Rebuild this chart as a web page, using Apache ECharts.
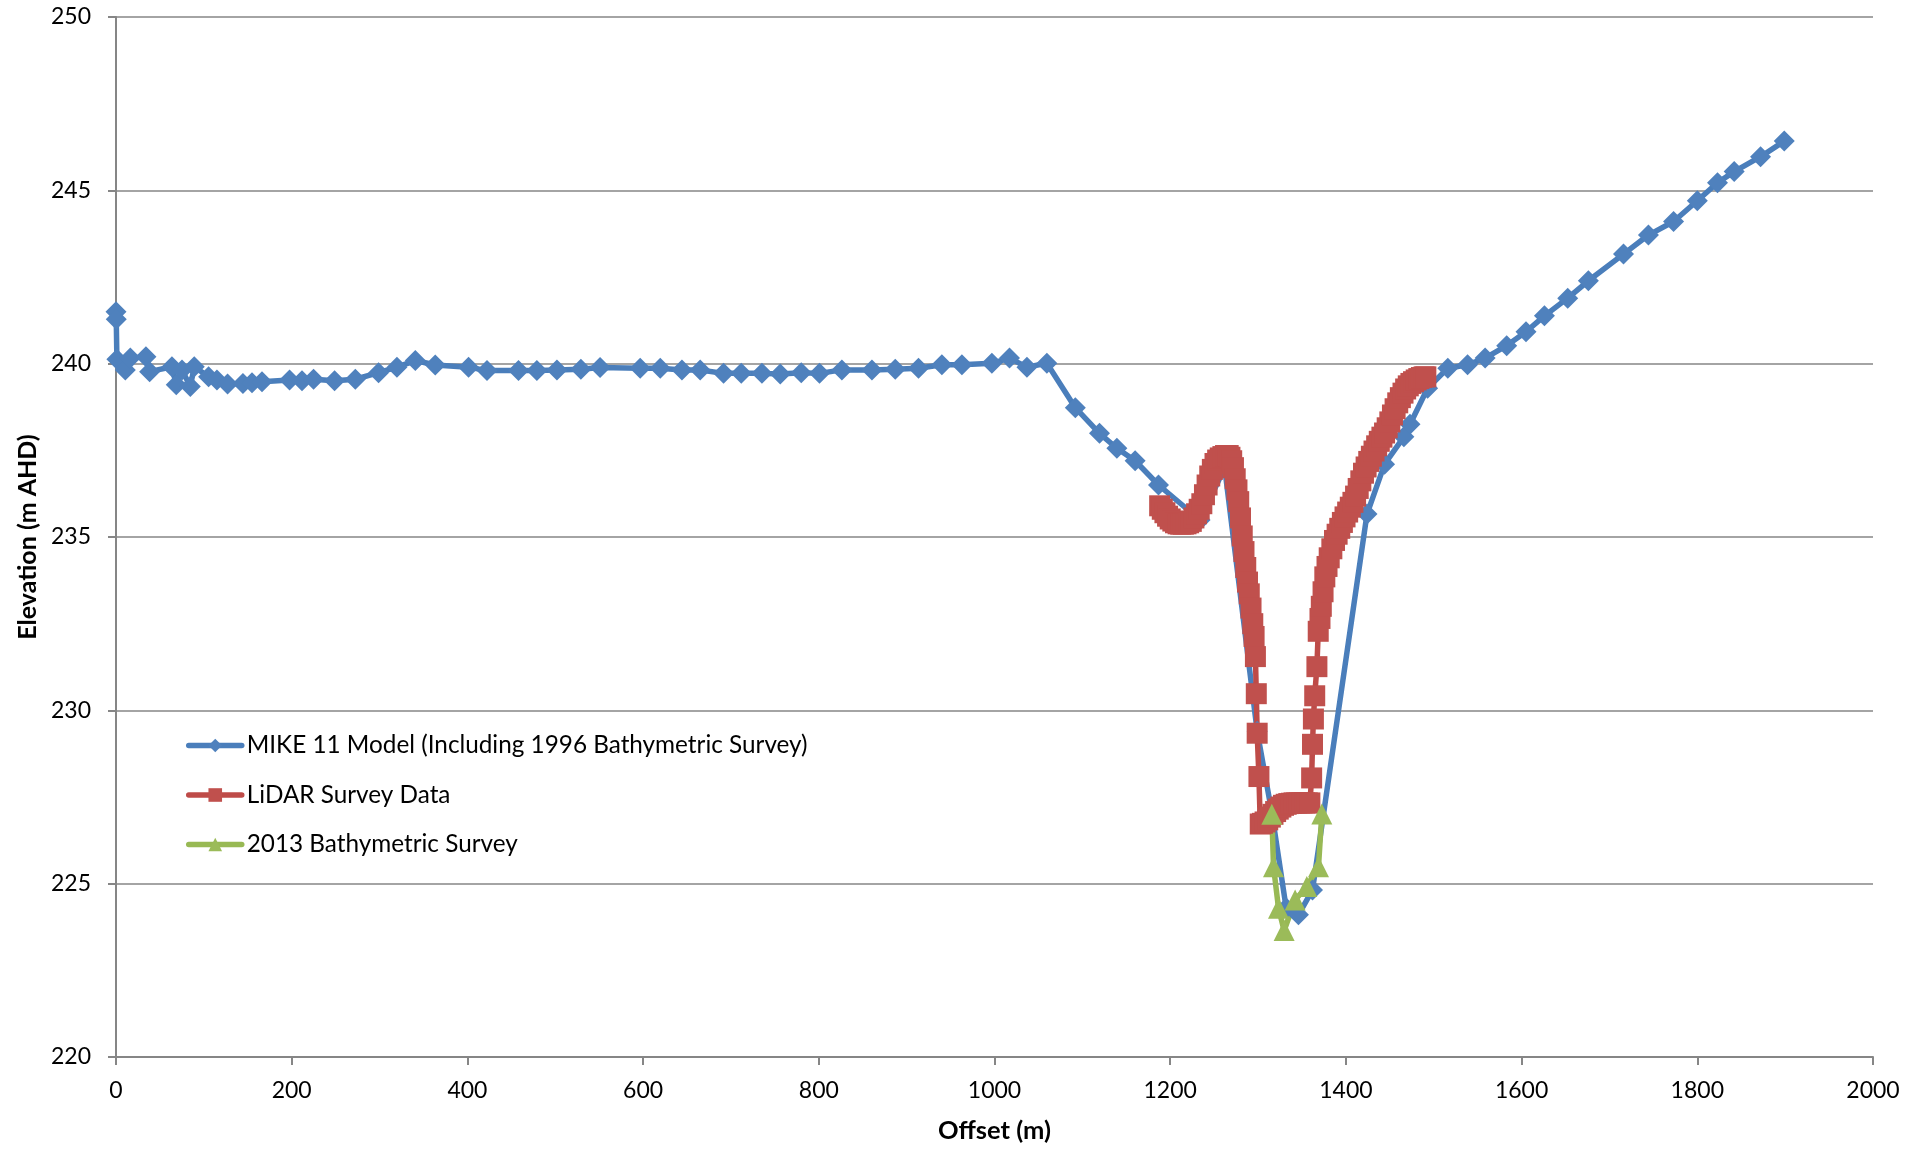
<!DOCTYPE html>
<html>
<head>
<meta charset="utf-8">
<title>Cross section – elevation vs offset</title>
<script src="https://cdn.jsdelivr.net/npm/echarts@6.0.0/dist/echarts.min.js"></script>
<style>
  html, body { margin: 0; padding: 0; background: #ffffff; }
  #chart { width: 1923px; height: 1149px; }
</style>
</head>
<body>
<div id="chart"></div>
<script>
// ---- Series names -------------------------------------------------------
const seriesNames = [
  'MIKE 11 Model (Including 1996 Bathymetric Survey)',
  'LiDAR Survey Data',
  '2013 Bathymetric Survey'
];

// ---- MIKE 11 model cross section (offset m, elevation m AHD) -------------
const mikeOffset = [
  0, 0.3, 1, 10.6, 16.3, 34.1, 38.3, 63.7, 68.6, 75.1, 84.6, 89.1, 105.4, 114.9,
  127, 144.5, 154.8, 166.2, 197.6, 211.7, 224.9, 248.8, 272.4, 298.9, 319.8,
  340.7, 363.4, 401.3, 422.3, 458.2, 479.1, 501.9, 529.2, 551, 596.7, 619.5,
  644.2, 665, 691.6, 711.7, 735.3, 756.1, 780, 800.8, 826.3, 860.5, 887, 913.5,
  940.1, 962.9, 997, 1017.1, 1036.9, 1059.6, 1092, 1119.5, 1139.3, 1160.1,
  1186.7, 1234, 1262, 1299, 1316, 1332, 1346, 1362, 1424, 1444,
  1466, 1473, 1493, 1516, 1538.5, 1558.5, 1583, 1605, 1626, 1652.5, 1676, 1716,
  1744.4, 1773, 1800, 1823, 1842, 1872, 1899
];
const mikeElev = [
  241.50, 241.28, 240.13, 239.82, 240.16, 240.20, 239.77, 239.91, 239.39, 239.82,
  239.34, 239.91, 239.62, 239.53, 239.41, 239.43, 239.45, 239.48, 239.53, 239.51,
  239.55, 239.51, 239.55, 239.74, 239.90, 240.09, 239.96, 239.90, 239.80, 239.80,
  239.80, 239.82, 239.84, 239.89, 239.87, 239.87, 239.82, 239.82, 239.72, 239.72,
  239.72, 239.70, 239.74, 239.72, 239.82, 239.82, 239.84, 239.87, 239.97, 239.97,
  240.01, 240.16, 239.90, 240.01, 238.73, 237.99, 237.56, 237.20, 236.50, 235.49,
  237.00, 229.40, 227.00, 224.30, 224.10, 224.82, 235.66, 237.10,
  237.89, 238.25, 239.29, 239.87, 239.97, 240.16, 240.52, 240.92, 241.38, 241.89,
  242.39, 243.16, 243.71, 244.10, 244.70, 245.22, 245.54, 245.97, 246.42
];

// ---- LiDAR survey profile ------------------------------------------------
const lidarOffset = [
  1188, 1191, 1194, 1197, 1200, 1203, 1206, 1209, 1212, 1215, 1218, 1221, 1224,
  1227, 1230, 1233, 1236, 1239, 1242, 1245, 1248, 1251, 1254, 1257, 1260, 1263,
  1266, 1268, 1270, 1272, 1274, 1276, 1278, 1280, 1282, 1284, 1286, 1288, 1290,
  1292, 1294, 1295.5, 1297, 1298, 1299, 1301, 1302.5, 1305, 1308, 1311, 1314,
  1317, 1320, 1323, 1326, 1329, 1332, 1335, 1338, 1341, 1344, 1347, 1350, 1353,
  1356, 1359, 1361, 1362, 1363, 1364.5, 1367, 1368.5, 1370.5, 1372, 1374, 1376,
  1378.5, 1381, 1384, 1387, 1390, 1393, 1396, 1399, 1402, 1405, 1408, 1411,
  1414, 1417, 1420, 1423, 1426, 1429, 1432, 1435, 1438, 1441, 1444, 1447, 1450,
  1453, 1456, 1459, 1462, 1465, 1468, 1471, 1474, 1477, 1480, 1483, 1486, 1489,
  1491
];
const lidarElev = [
  235.90, 235.80, 235.70, 235.60, 235.52, 235.46, 235.41, 235.38, 235.37, 235.37,
  235.38, 235.41, 235.45, 235.55, 235.67, 235.80, 235.96, 236.22, 236.50, 236.76,
  236.95, 237.12, 237.22, 237.28, 237.32, 237.35, 237.35, 237.30, 237.20, 237.00,
  236.68, 236.36, 236.02, 235.55, 235.03, 234.58, 234.12, 233.70, 233.36, 232.95,
  232.50, 232.13, 231.55, 230.48, 229.34, 228.09, 226.72, 226.74, 226.78, 226.84,
  226.92, 227.00, 227.08, 227.15, 227.21, 227.26, 227.29, 227.31, 227.32, 227.33,
  227.33, 227.33, 227.33, 227.33, 227.33, 227.33, 228.05, 229.02, 229.75, 230.42,
  231.26, 232.28, 232.65, 233.00, 233.42, 233.85, 234.15, 234.40, 234.66, 234.90,
  235.08, 235.25, 235.42, 235.58, 235.72, 235.86, 236.00, 236.18, 236.40, 236.62,
  236.84, 237.02, 237.18, 237.33, 237.48, 237.63, 237.76, 237.88, 238.00, 238.15,
  238.32, 238.52, 238.70, 238.87, 239.02, 239.15, 239.27, 239.36, 239.43, 239.48,
  239.53, 239.57, 239.60, 239.62, 239.62
];

// ---- 2013 bathymetric survey ---------------------------------------------
const bathyOffset = [1315.7, 1317.6, 1323.3, 1329.7, 1342.2, 1355.5, 1368.8, 1372.6];
const bathyElev   = [227.00, 225.49, 224.29, 223.65, 224.53, 224.92, 225.49, 227.01];

// ---- Axis ranges ---------------------------------------------------------
const xRange = { min: 0, max: 2000, step: 200 };
const yRange = { min: 220, max: 250, step: 5 };

const pairs = (xs, ys) => xs.map((x, i) => [x, ys[i]]);

const FONT = 'Lato, "Open Sans", sans-serif';
const GRID_GREY = '#868686';
const LINE_W = 5.5;

const chart = echarts.init(document.getElementById('chart'), null, { renderer: 'canvas' });

const lineSeries = (name, data, symbol, lineColor, fillColor, size) => ({
  name,
  type: 'line',
  data,
  symbol,
  symbolSize: size,
  showAllSymbol: true,
  smooth: false,
  lineStyle: { color: lineColor, width: LINE_W, join: 'round', cap: 'round' },
  itemStyle: { color: fillColor, borderWidth: 0 },
  emphasis: { disabled: true },
  animation: false
});

chart.setOption({
  animation: false,
  backgroundColor: '#ffffff',
  textStyle: { fontFamily: FONT },
  grid: { left: 116, right: 50, top: 17, bottom: 92, containLabel: false },
  legend: {
    orient: 'vertical',
    left: 186,
    top: 733,
    padding: 0,
    itemWidth: 53,
    itemHeight: 17,
    itemGap: 24.5,
    selectedMode: false,
    lineStyle: { width: LINE_W },
    textStyle: { fontFamily: FONT, fontSize: 24.3, color: '#000000', lineHeight: 25 },
    data: seriesNames
  },
  xAxis: {
    type: 'value',
    min: xRange.min,
    max: xRange.max,
    interval: xRange.step,
    name: 'Offset (m)',
    nameLocation: 'middle',
    nameGap: 61,
    nameTextStyle: { fontFamily: FONT, fontSize: 25.5, fontWeight: 'bold', color: '#000000' },
    axisLine: { show: true, onZero: false, lineStyle: { color: GRID_GREY, width: 2 } },
    axisTick: { show: true, length: 8, lineStyle: { color: GRID_GREY, width: 2 } },
    axisLabel: {
      margin: 22, fontFamily: FONT, fontSize: 23, color: '#000000',
      formatter: (v) => String(v)
    },
    splitLine: { show: false }
  },
  yAxis: {
    type: 'value',
    min: yRange.min,
    max: yRange.max,
    interval: yRange.step,
    name: 'Elevation (m AHD)',
    nameLocation: 'middle',
    nameGap: 76,
    nameRotate: 90,
    nameTextStyle: { fontFamily: FONT, fontSize: 25, fontWeight: 'bold', color: '#000000' },
    axisLine: { show: true, onZero: false, lineStyle: { color: GRID_GREY, width: 2 } },
    axisTick: { show: true, length: 8, lineStyle: { color: GRID_GREY, width: 2 } },
    axisLabel: {
      margin: 25, fontFamily: FONT, fontSize: 23, color: '#000000',
      formatter: (v) => String(v)
    },
    splitLine: { show: true, lineStyle: { color: GRID_GREY, width: 1.6 } }
  },
  series: [
    lineSeries(seriesNames[0], pairs(mikeOffset, mikeElev), 'diamond', '#4A7EBB', '#4F81BD', 21),
    lineSeries(seriesNames[1], pairs(lidarOffset, lidarElev), 'rect', '#BE4B48', '#C0504D', 21),
    lineSeries(seriesNames[2], pairs(bathyOffset, bathyElev), 'triangle', '#98B954', '#9BBB59', 21)
  ]
});
</script>
</body>
</html>
